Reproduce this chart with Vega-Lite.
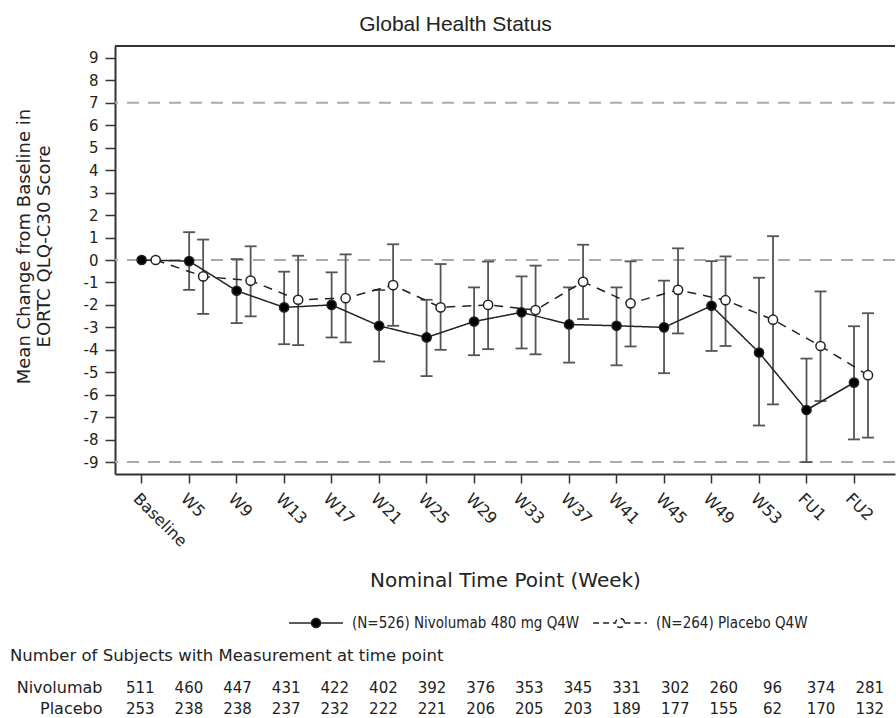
{
  "$schema": "https://vega.github.io/schema/vega-lite/v6.json",
  "padding": {"left": 10, "top": 14, "right": 0, "bottom": 0},
  "spacing": 14,
  "config": {
    "font": "DejaVu Sans",
    "view": {"stroke": null},
    "axis": {"domainColor": "#333", "domainWidth": 2, "tickColor": "#333", "tickWidth": 1.5, "labelColor": "#222", "titleColor": "#222", "labelFont": "DejaVu Sans", "titleFont": "DejaVu Sans", "titleFontWeight": "normal", "grid": false},
    "axisY": {"labelOverlap": false, "tickSize": 10, "labelPadding": 7, "labelFontSize": 15, "titleFontSize": 18, "titlePadding": 30, "titleLineHeight": 20}
  },
  "data": {"values": [
    {"t": "Baseline", "arm": "Nivolumab", "m": 0, "lo": null, "hi": null, "n": 511},
    {"t": "Baseline", "arm": "Placebo", "m": 0, "lo": null, "hi": null, "n": 253},
    {"t": "W5", "arm": "Nivolumab", "m": -0.05, "lo": -1.33, "hi": 1.24, "n": 460},
    {"t": "W5", "arm": "Placebo", "m": -0.73, "lo": -2.40, "hi": 0.91, "n": 238},
    {"t": "W9", "arm": "Nivolumab", "m": -1.37, "lo": -2.81, "hi": 0.04, "n": 447},
    {"t": "W9", "arm": "Placebo", "m": -0.92, "lo": -2.51, "hi": 0.61, "n": 238},
    {"t": "W13", "arm": "Nivolumab", "m": -2.11, "lo": -3.75, "hi": -0.52, "n": 431},
    {"t": "W13", "arm": "Placebo", "m": -1.77, "lo": -3.79, "hi": 0.19, "n": 237},
    {"t": "W17", "arm": "Nivolumab", "m": -2.0, "lo": -3.45, "hi": -0.55, "n": 422},
    {"t": "W17", "arm": "Placebo", "m": -1.70, "lo": -3.67, "hi": 0.25, "n": 232},
    {"t": "W21", "arm": "Nivolumab", "m": -2.93, "lo": -4.52, "hi": -1.34, "n": 402},
    {"t": "W21", "arm": "Placebo", "m": -1.12, "lo": -2.93, "hi": 0.70, "n": 222},
    {"t": "W25", "arm": "Nivolumab", "m": -3.45, "lo": -5.17, "hi": -1.77, "n": 392},
    {"t": "W25", "arm": "Placebo", "m": -2.11, "lo": -4.0, "hi": -0.18, "n": 221},
    {"t": "W29", "arm": "Nivolumab", "m": -2.74, "lo": -4.24, "hi": -1.22, "n": 376},
    {"t": "W29", "arm": "Placebo", "m": -2.0, "lo": -3.97, "hi": -0.07, "n": 206},
    {"t": "W33", "arm": "Nivolumab", "m": -2.33, "lo": -3.94, "hi": -0.73, "n": 353},
    {"t": "W33", "arm": "Placebo", "m": -2.23, "lo": -4.2, "hi": -0.25, "n": 205},
    {"t": "W37", "arm": "Nivolumab", "m": -2.87, "lo": -4.57, "hi": -1.22, "n": 345},
    {"t": "W37", "arm": "Placebo", "m": -0.97, "lo": -2.63, "hi": 0.68, "n": 203},
    {"t": "W41", "arm": "Nivolumab", "m": -2.93, "lo": -4.69, "hi": -1.22, "n": 331},
    {"t": "W41", "arm": "Placebo", "m": -1.93, "lo": -3.85, "hi": -0.06, "n": 189},
    {"t": "W45", "arm": "Nivolumab", "m": -3.0, "lo": -5.04, "hi": -0.92, "n": 302},
    {"t": "W45", "arm": "Placebo", "m": -1.33, "lo": -3.27, "hi": 0.52, "n": 177},
    {"t": "W49", "arm": "Nivolumab", "m": -2.04, "lo": -4.05, "hi": -0.05, "n": 260},
    {"t": "W49", "arm": "Placebo", "m": -1.79, "lo": -3.83, "hi": 0.16, "n": 155},
    {"t": "W53", "arm": "Nivolumab", "m": -4.12, "lo": -7.37, "hi": -0.79, "n": 96},
    {"t": "W53", "arm": "Placebo", "m": -2.66, "lo": -6.43, "hi": 1.06, "n": 62},
    {"t": "FU1", "arm": "Nivolumab", "m": -6.68, "lo": -9.0, "hi": -4.39, "n": 374},
    {"t": "FU1", "arm": "Placebo", "m": -3.83, "lo": -6.28, "hi": -1.4, "n": 170},
    {"t": "FU2", "arm": "Nivolumab", "m": -5.46, "lo": -7.99, "hi": -2.95, "n": 281},
    {"t": "FU2", "arm": "Placebo", "m": -5.13, "lo": -7.91, "hi": -2.37, "n": 132}
  ]},
  "resolve": {"scale": {"x": "independent", "y": "independent", "fill": "independent"}, "legend": {"fill": "independent"}},
  "vconcat": [
    {
      "width": 780,
      "height": 428,
      "title": {"text": "Global Health Status", "font": "Liberation Sans", "fontSize": 21, "fontWeight": "normal", "color": "#222", "anchor": "middle", "frame": "bounds", "offset": 10},
      "layer": [
        {
          "data": {"values": [{"ref": 7}, {"ref": 0}, {"ref": -9}]},
          "mark": {"type": "rule", "strokeDash": [12, 9], "color": "#aaaaaa", "strokeWidth": 2},
          "encoding": {
            "y": {"field": "ref", "type": "quantitative", "title": ["Mean Change from Baseline in", "EORTC QLQ-C30 Score"],
              "scale": {"domain": [-9.53, 9.53], "nice": false, "zero": false},
              "axis": {"values": [-9, -8, -7, -6, -5, -4, -3, -2, -1, 0, 1, 2, 3, 4, 5, 6, 7, 8, 9], "labelExpr": "'' + datum.value", "labelOverlap": false, "titleY": 200}}
          }
        },
        {
          "mark": {"type": "rule", "color": "#333", "strokeWidth": 2},
          "encoding": {"y": {"datum": 9.53, "title": ["Mean Change from Baseline in", "EORTC QLQ-C30 Score"],
            "axis": {"values": [-9, -8, -7, -6, -5, -4, -3, -2, -1, 0, 1, 2, 3, 4, 5, 6, 7, 8, 9], "labelExpr": "'' + datum.value", "labelOverlap": false, "titleY": 200}}}
        },
        {
          "encoding": {
            "x": {"field": "t", "type": "ordinal", "title": "Nominal Time Point (Week)",
              "scale": {"domain": ["Baseline", "W5", "W9", "W13", "W17", "W21", "W25", "W29", "W33", "W37", "W41", "W45", "W49", "W53", "FU1", "FU2"], "paddingInner": 0, "paddingOuter": 0.2124, "align": 0.147},
              "axis": {"labelAngle": 45, "tickSize": 9, "labelPadding": 7, "labelFontSize": 16, "titleFontSize": 20, "titlePadding": 21, "labelOverlap": false}},
            "xOffset": {"field": "arm", "type": "nominal", "scale": {"type": "point", "domain": ["Nivolumab", "Placebo"], "range": [23.7, 37.7], "padding": 0}}
          },
          "layer": [
            {
              "mark": {"type": "rule", "color": "#555", "strokeWidth": 1.8},
              "encoding": {
                "y": {"field": "lo", "type": "quantitative", "title": ["Mean Change from Baseline in", "EORTC QLQ-C30 Score"],
                  "axis": {"values": [-9, -8, -7, -6, -5, -4, -3, -2, -1, 0, 1, 2, 3, 4, 5, 6, 7, 8, 9], "labelExpr": "'' + datum.value", "labelOverlap": false, "titleY": 200}},
                "y2": {"field": "hi"}
              }
            },
            {
              "mark": {"type": "tick", "color": "#555", "thickness": 1.8, "size": 12, "opacity": 1},
              "encoding": {"y": {"field": "lo", "type": "quantitative", "title": ["Mean Change from Baseline in", "EORTC QLQ-C30 Score"],
                "axis": {"values": [-9, -8, -7, -6, -5, -4, -3, -2, -1, 0, 1, 2, 3, 4, 5, 6, 7, 8, 9], "labelExpr": "'' + datum.value", "labelOverlap": false, "titleY": 200}}}
            },
            {
              "mark": {"type": "tick", "color": "#555", "thickness": 1.8, "size": 12, "opacity": 1},
              "encoding": {"y": {"field": "hi", "type": "quantitative", "title": ["Mean Change from Baseline in", "EORTC QLQ-C30 Score"],
                "axis": {"values": [-9, -8, -7, -6, -5, -4, -3, -2, -1, 0, 1, 2, 3, 4, 5, 6, 7, 8, 9], "labelExpr": "'' + datum.value", "labelOverlap": false, "titleY": 200}}}
            },
            {
              "mark": {"type": "line", "color": "#222", "strokeWidth": 1.5},
              "encoding": {
                "y": {"field": "m", "type": "quantitative", "title": ["Mean Change from Baseline in", "EORTC QLQ-C30 Score"],
                  "axis": {"values": [-9, -8, -7, -6, -5, -4, -3, -2, -1, 0, 1, 2, 3, 4, 5, 6, 7, 8, 9], "labelExpr": "'' + datum.value", "labelOverlap": false, "titleY": 200}},
                "strokeDash": {"field": "arm", "type": "nominal", "scale": {"domain": ["Nivolumab", "Placebo"], "range": [[1, 0], [9, 7]]}, "legend": null}
              }
            },
            {
              "mark": {"type": "point", "filled": true, "stroke": "#222", "strokeWidth": 1.5, "size": 85, "opacity": 1},
              "encoding": {
                "y": {"field": "m", "type": "quantitative", "title": ["Mean Change from Baseline in", "EORTC QLQ-C30 Score"],
                  "axis": {"values": [-9, -8, -7, -6, -5, -4, -3, -2, -1, 0, 1, 2, 3, 4, 5, 6, 7, 8, 9], "labelExpr": "'' + datum.value", "labelOverlap": false, "titleY": 200}},
                "fill": {"field": "arm", "type": "nominal", "scale": {"domain": ["Nivolumab", "Placebo"], "range": ["black", "white"]},
                  "legend": {"orient": "none", "legendX": 173, "legendY": 567, "direction": "horizontal", "title": null,
                    "symbolType": "M-1,0H-0.167A0.167,0.167,0,1,1,0.167,0A0.167,0.167,0,1,1,-0.167,0M0.167,0H1",
                    "symbolSize": 2900, "symbolStrokeColor": "#222", "symbolStrokeWidth": 1.5, "symbolOpacity": 1,
                    "labelExpr": "datum.label == 'Nivolumab' ? '(N=526) Nivolumab 480 mg Q4W' : '(N=264) Placebo Q4W'",
                    "labelLimit": 0,
                    "labelFont": "DejaVu Sans Condensed, DejaVu Sans", "labelFontSize": 15, "labelColor": "#222", "labelOffset": 8, "columnPadding": 12, "clipHeight": 20,
                    "encode": {"symbols": {"update": {"strokeDash": {"signal": "datum.index === 1 ? [6, 4] : [1, 0]"}}}}}}
              }
            }
          ]
        }
      ]
    },
    {
      "width": 780,
      "height": 42,
      "title": {"text": "Number of Subjects with Measurement at time point", "anchor": "start", "frame": "group", "dx": -105, "font": "DejaVu Sans", "fontSize": 16.5, "fontWeight": "normal", "color": "#222", "offset": 13},
      "mark": {"type": "text", "font": "DejaVu Sans", "fontSize": 15, "color": "#222"},
      "encoding": {
        "x": {"field": "t", "type": "ordinal", "sort": null, "scale": {"type": "point", "padding": 0.52}, "axis": null},
        "y": {"field": "arm", "type": "nominal", "scale": {"type": "point", "domain": ["Nivolumab", "Placebo"], "padding": 0.5},
          "axis": {"title": null, "domain": false, "ticks": false, "labelPadding": 13, "labelFontSize": 16, "labelFont": "DejaVu Sans", "labelColor": "#222"}},
        "text": {"field": "n", "type": "quantitative"}
      }
    }
  ]
}
